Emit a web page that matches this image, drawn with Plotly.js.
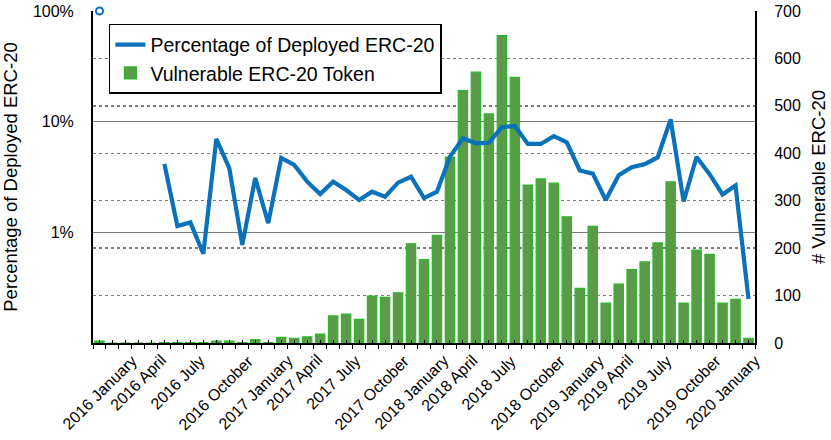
<!DOCTYPE html>
<html>
<head>
<meta charset="utf-8">
<script src="https://cdn.plot.ly/plotly-3.0.1.min.js"></script>
<style>
  html, body { margin: 0; padding: 0; background: #fff; }
  #chart { width: 831px; height: 440px; }
</style>
</head>
<body>
<div id="chart"></div>
<script>
// ── Data (monthly, 2016 January – 2020 March) ───────────────────────────────
const MONTHS = [
  '2016 January', '2016 February', '2016 March', '2016 April', '2016 May', '2016 June',
  '2016 July', '2016 August', '2016 September', '2016 October', '2016 November', '2016 December',
  '2017 January', '2017 February', '2017 March', '2017 April', '2017 May', '2017 June',
  '2017 July', '2017 August', '2017 September', '2017 October', '2017 November', '2017 December',
  '2018 January', '2018 February', '2018 March', '2018 April', '2018 May', '2018 June',
  '2018 July', '2018 August', '2018 September', '2018 October', '2018 November', '2018 December',
  '2019 January', '2019 February', '2019 March', '2019 April', '2019 May', '2019 June',
  '2019 July', '2019 August', '2019 September', '2019 October', '2019 November', '2019 December',
  '2020 January', '2020 February', '2020 March'
];

// # vulnerable ERC-20 tokens per month (right axis)
const VULNERABLE = [
  4, 0, 0, 0, 0, 1, 1, 1, 1, 4, 4, 1,
  7, 1, 12, 10, 13, 19, 57, 61, 50, 99, 96, 106,
  209, 176, 227, 392, 532, 571, 483, 648, 560, 333, 346, 337,
  266, 115, 246, 84, 124, 155, 171, 211, 340, 84, 196, 187,
  84, 92, 10
];

// percentage of deployed ERC-20 that are vulnerable (left axis, log)
const PERCENT = [
  100, null, null, null, null, 4.15, 1.14, 1.23, 0.64, 6.98, 3.81, 0.77,
  3.1, 1.21, 4.7, 4.06, 2.87, 2.22, 2.87, 2.41, 1.96, 2.33, 2.1, 2.81,
  3.18, 2.04, 2.33, 4.83, 7.07, 6.38, 6.46, 8.9, 9.15, 6.29, 6.29, 7.4,
  6.5, 3.62, 3.39, 1.96, 3.28, 3.88, 4.13, 4.75, 10.5, 1.9, 4.8, 3.35,
  2.2, 2.65, 0.25
];

const PCT_TICKS = [1, 10, 100];
const PCT_TICK_TEXT = ['1%', '10%', '100%'];
const LABEL_EVERY = 3;   // one x label per quarter

const FONT = 'Liberation Sans, Arial, Helvetica, sans-serif';
const LINE_BLUE = '#0a72ba';
const BAR_FILL = '#5b9a48';
const BAR_EDGE = '#2bb82b';
const GRID = '#7a7a7a';

const idx = MONTHS.map((_, i) => i);

// isolated points (no neighbour) get a marker since no line can be drawn
const isoX = [], isoY = [];
PERCENT.forEach((v, i) => {
  if (v == null) return;
  const prev = i > 0 ? PERCENT[i - 1] : null;
  const next = i < PERCENT.length - 1 ? PERCENT[i + 1] : null;
  if (prev == null && next == null) { isoX.push(i); isoY.push(v); }
});

// ── Traces ──────────────────────────────────────────────────────────────────
const bars = {
  type: 'bar',
  name: 'Vulnerable ERC-20 Token',
  x: idx,
  y: VULNERABLE,
  yaxis: 'y',
  width: 0.72,
  marker: { color: BAR_FILL, line: { color: BAR_EDGE, width: 1.2 } },
  legendrank: 2,
  hoverinfo: 'skip',
};

const line = {
  type: 'scatter',
  mode: 'lines',
  name: 'Percentage of Deployed ERC-20',
  x: idx,
  y: PERCENT,
  yaxis: 'y2',
  line: { color: LINE_BLUE, width: 4.2 },
  connectgaps: false,
  legendrank: 1,
  hoverinfo: 'skip',
};

const iso = {
  type: 'scatter',
  mode: 'markers',
  x: isoX,
  y: isoY,
  yaxis: 'y2',
  marker: { symbol: 'circle-open', size: 7, color: LINE_BLUE, line: { width: 2, color: LINE_BLUE } },
  showlegend: false,
  cliponaxis: false,
  hoverinfo: 'skip',
};

// ── x labels (rotated, centred on their month) ──────────────────────────────
const annotations = idx
  .filter(i => i % LABEL_EVERY === 0)
  .map(i => ({
    x: i, xref: 'x',
    y: 0, yref: 'paper',
    text: MONTHS[i],
    textangle: -45,
    xanchor: 'center',
    yanchor: 'top',
    yshift: -6,
    showarrow: false,
    font: { family: FONT, size: 16, color: '#000' },
  }));

const layout = {
  width: 831,
  height: 440,
  margin: { l: 93, r: 76, t: 11, b: 97, pad: 0 },
  paper_bgcolor: '#fff',
  plot_bgcolor: '#fff',
  font: { family: FONT, size: 16, color: '#000' },
  showlegend: true,
  legend: {
    x: 0.024, xanchor: 'left',
    y: 0.961, yanchor: 'top',
    bgcolor: '#fff',
    bordercolor: '#000',
    borderwidth: 1.5,
    font: { family: FONT, size: 19.5, color: '#000' },
    tracegroupgap: 0,
  },
  xaxis: {
    type: 'linear',
    range: [-0.5, MONTHS.length - 0.5],
    showgrid: false,
    zeroline: false,
    showline: true,
    linecolor: '#000',
    linewidth: 2,
    ticks: 'outside',
    tickmode: 'linear',
    tick0: -0.5,
    dtick: 1,
    ticklen: 4,
    tickwidth: 1,
    tickcolor: '#000',
    showticklabels: false,
    minor: { ticks: 'inside', tickmode: 'linear', tick0: 0, dtick: 1, ticklen: 3, tickcolor: '#000', tickwidth: 1 },
    fixedrange: true,
  },
  yaxis: {
    side: 'right',
    range: [0, 700],
    tickmode: 'linear',
    tick0: 0,
    dtick: 100,
    showgrid: true,
    gridcolor: GRID,
    gridwidth: 1.3,
    griddash: 'dot',
    zeroline: false,
    showline: true,
    linecolor: '#000',
    linewidth: 2,
    ticks: '',
    ticklabelstandoff: 14,
    tickfont: { family: FONT, size: 16, color: '#000' },
    title: { text: '# Vulnerable ERC-20', standoff: 12, font: { family: FONT, size: 18.5, color: '#000' } },
    fixedrange: true,
  },
  yaxis2: {
    type: 'log',
    overlaying: 'y',
    side: 'left',
    range: [-1, 2],
    tickmode: 'array',
    tickvals: PCT_TICKS,
    ticktext: PCT_TICK_TEXT,
    showgrid: true,
    gridcolor: GRID,
    gridwidth: 1.3,
    zeroline: false,
    showline: true,
    linecolor: '#000',
    linewidth: 2,
    ticks: '',
    ticklabelstandoff: 14,
    tickfont: { family: FONT, size: 16, color: '#000' },
    title: { text: 'Percentage of Deployed ERC-20', standoff: 10, font: { family: FONT, size: 18.5, color: '#000' } },
    fixedrange: true,
  },
  annotations: annotations,
};

Plotly.newPlot('chart', [bars, line, iso], layout, { displayModeBar: false, staticPlot: true });
</script>
</body>
</html>
